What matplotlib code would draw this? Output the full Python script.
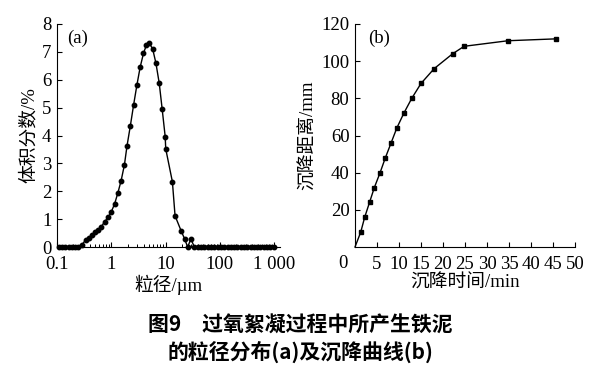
import matplotlib
matplotlib.use("Agg")
import matplotlib.pyplot as plt
from matplotlib.ticker import FixedLocator, LogLocator, NullFormatter

plt.rcParams['font.family'] = ['Liberation Serif', 'Noto Sans CJK SC', 'DejaVu Sans']
plt.rcParams['mathtext.fontset'] = 'stix'

# ---- data (a): particle size distribution ----
size_um = [0.108, 0.124, 0.142, 0.163, 0.188, 0.216, 0.248,
           0.285, 0.337, 0.387, 0.445, 0.512, 0.573, 0.640, 0.757, 0.869,
           1.00, 1.15, 1.32, 1.52, 1.75, 1.95, 2.25, 2.58, 2.97, 3.41,
           3.93, 4.46, 5.05, 5.81, 6.67, 7.67, 8.69, 9.87, 10.1,
           13.4, 15.0, 19.5, 22.4, 25.6, 29.4,
           34, 39, 45, 52, 60, 69, 79, 91, 105, 121, 139, 160, 184,
           212, 244, 280, 322, 370, 426, 490, 563, 648, 745, 857, 985]
volume_pct = [0, 0, 0, 0, 0, 0, 0,
              0.07, 0.25, 0.34, 0.44, 0.54, 0.62, 0.70, 0.91, 1.06,
              1.26, 1.54, 1.93, 2.38, 2.95, 3.62, 4.35, 5.09, 5.81, 6.45,
              6.95, 7.25, 7.31, 7.10, 6.59, 5.87, 4.94, 3.96, 3.52,
              2.34, 1.12, 0.57, 0.30, 0, 0.29,
              0, 0, 0, 0, 0, 0, 0, 0, 0, 0, 0, 0, 0,
              0, 0, 0, 0, 0, 0, 0, 0, 0, 0, 0, 0]
a_xticks = [0.1, 1, 10, 100, 1000]
a_xticklabels = ['0.1', '1', '10', '100', '1 000']
a_yticks = [0, 1, 2, 3, 4, 5, 6, 7, 8]

# ---- data (b): settling curve ----
time_min = [0, 1.3, 2.2, 3.3, 4.4, 5.7, 6.9, 8.2, 9.5, 11.1, 12.9, 15.0,
            18.0, 22.2, 24.8, 34.8, 45.6]
dist_mm = [0, 8, 16, 24, 32, 40, 48, 56, 64, 72, 80, 88,
           96, 104, 108, 111, 112]
b_xticks = [5, 10, 15, 20, 25, 30, 35, 40, 45, 50]
b_yticks = [20, 40, 60, 80, 100, 120]

fig = plt.figure(figsize=(6.08, 3.70), dpi=100)

tick_fs = 13.5
lab_fs = 13.5

# ---- panel (a) ----
axa = fig.add_axes([57/608, 1-247/370, 223/608, 223/370])
axa.set_xscale('log')
axa.plot(size_um, volume_pct, color='black', lw=1.0, marker='o', ms=3.2,
         mfc='black', mec='black', clip_on=False, zorder=3)
axa.set_xlim(0.1, 1290)
axa.set_ylim(0, 8)
axa.xaxis.set_major_locator(FixedLocator(a_xticks))
axa.set_xticklabels(a_xticklabels)
axa.xaxis.set_minor_locator(LogLocator(base=10, subs=range(2, 10), numticks=20))
axa.xaxis.set_minor_formatter(NullFormatter())
axa.set_yticks(a_yticks)
for s in ['top', 'right']:
    axa.spines[s].set_visible(False)
axa.tick_params(axis='both', which='major', direction='in', length=3.5,
                width=0.8, labelsize=tick_fs)
axa.tick_params(axis='x', which='major', pad=6.5)
axa.tick_params(axis='y', which='major', pad=4)
axa.tick_params(axis='x', which='minor', direction='in', length=2, width=0.7)
axa.set_xlabel('粒径/µm', fontsize=lab_fs, labelpad=1)
axa.set_ylabel('体积分数/%', fontsize=lab_fs, labelpad=3)
axa.text(0.045, 0.975, '(a)', transform=axa.transAxes, fontsize=tick_fs,
         ha='left', va='top')

# ---- panel (b) ----
axb = fig.add_axes([355/608, 1-247/370, 220/608, 223/370])
axb.plot(time_min, dist_mm, color='black', lw=1.0, marker='s', ms=3.4,
         mfc='black', mec='black', markevery=list(range(1, len(time_min))),
         clip_on=False, zorder=3)
axb.set_xlim(0, 50)
axb.set_ylim(0, 120)
axb.set_xticks(b_xticks)
axb.set_yticks(b_yticks)
for s in ['top', 'right']:
    axb.spines[s].set_visible(False)
axb.tick_params(axis='both', which='major', direction='in', length=3.5,
                width=0.8, labelsize=tick_fs)
axb.tick_params(axis='x', which='major', pad=6.5)
axb.tick_params(axis='y', which='major', pad=4)
axb.annotate('0', xy=(0, 0), xycoords='data', xytext=(-12, -16),
             textcoords='offset pixels', ha='center', va='center',
             fontsize=tick_fs, annotation_clip=False)
axb.set_xlabel('沉降时间/min', fontsize=lab_fs, labelpad=1)
axb.set_ylabel('沉降距离/mm', fontsize=lab_fs, labelpad=3)
axb.text(0.06, 0.975, '(b)', transform=axb.transAxes, fontsize=tick_fs,
         ha='left', va='top')

# ---- caption ----
fig.text(300/608, 1-325/370, '图9　过氧絮凝过程中所产生铁泥', ha='center',
         va='center', fontsize=15, fontweight='bold',
         family=['Noto Sans CJK SC', 'DejaVu Sans'])
fig.text(300/608, 1-352/370, '的粒径分布(a)及沉降曲线(b)', ha='center',
         va='center', fontsize=15, fontweight='bold',
         family=['Noto Sans CJK SC', 'DejaVu Sans'])

fig.savefig('out.png', dpi=100)
